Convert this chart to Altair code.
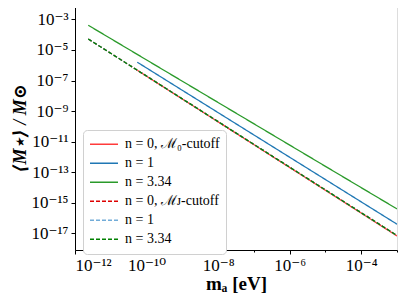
import altair as alt
import pandas as pd

# series: label, style key, start/end exponents (log10 of x and y)
series_labels = ["n = 0, ℳ₀-cutoff", "n = 1", "n = 3.34",
                 "n = 0, ℳ_J-cutoff", "n = 1 ", "n = 3.34 "]
legend_text = ["n = 0, ℳ₀-cutoff", "n = 1", "n = 3.34",
               "n = 0, ℳᴊ-cutoff", "n = 1", "n = 3.34"]
x_start_exp = [-10.26, -10.26, -11.63, -11.63, -11.63, -11.63]
x_end_exp = [-3.0, -3.0, -3.0, -3.0, -3.0, -3.0]
y_start_exp = [-6.33, -5.80, -3.38, -4.28, -4.28, -4.28]
y_end_exp = [-17.18, -16.41, -15.41, -17.15, -17.15, -17.15]
colors = ["#ff3b3b", "#1f77b4", "#2a9a2a", "#dd0000", "#72acd8", "#008000"]
dashes = [[1, 0], [1, 0], [1, 0], [4, 2], [4, 2], [4, 2]]

x_major_exp = [-12, -10, -8, -6, -4]
x_minor_exp = [-11, -9, -7, -5, -3]
y_major_exp = [-17, -15, -13, -11, -9, -7, -5, -3]

rows = []
for i, lab in enumerate(series_labels):
    rows.append({"series": lab, "order": i, "x": 10 ** x_start_exp[i], "y": 10 ** y_start_exp[i]})
    rows.append({"series": lab, "order": i, "x": 10 ** x_end_exp[i], "y": 10 ** y_end_exp[i]})
df = pd.DataFrame(rows)

sup = str.maketrans("-0123456789", "⁻⁰¹²³⁴⁵⁶⁷⁸⁹")


def label_expr(exps):
    parts = []
    for e in sorted(exps):
        parts.append(f"datum.value < {10 ** (e + 0.5)} ? '10{str(e).translate(sup)}' : ")
    return "".join(parts) + "''"


legend_expr = " : ".join(
    f"datum.label == '{s}' ? '{t}'" for s, t in zip(series_labels, legend_text)
) + " : datum.label"

FONT = "'Liberation Serif', 'DejaVu Serif', serif"

xscale = alt.Scale(type="log", domain=[1e-12, 1e-3], nice=False)
yscale = alt.Scale(type="log", domain=[10 ** -18.1, 10 ** -2.12], nice=False)

lines = alt.Chart(df).mark_line(strokeWidth=1.3, clip=True).encode(
    x=alt.X("x:Q", scale=xscale,
            axis=alt.Axis(values=[10 ** e for e in x_major_exp], labelExpr=label_expr(x_major_exp),
                          title="mₐ [eV]", titleFontWeight="bold", titleFontSize=19,
                          titleFont=FONT, titlePadding=1, tickSize=4, labelPadding=3,
                          labelFontSize=17, labelFont=FONT, grid=False,
                          domainColor="black", tickColor="black", labelColor="black",
                          titleColor="black")),
    y=alt.Y("y:Q", scale=yscale,
            axis=alt.Axis(values=[10 ** e for e in y_major_exp], labelExpr=label_expr(y_major_exp),
                          title="⟨M⋆⟩ / M⊙", titleFontWeight="bold", titleFontStyle="italic",
                          titleFontSize=18, titleFont=FONT, titlePadding=2, tickSize=4,
                          labelPadding=3, labelFontSize=17, labelFont=FONT, grid=False,
                          domainColor="black", tickColor="black", labelColor="black",
                          titleColor="black")),
    color=alt.Color("series:N", scale=alt.Scale(domain=series_labels, range=colors),
                    legend=alt.Legend(title=None, orient="none", legendX=8, legendY=124,
                                      symbolType="stroke", symbolSize=784, symbolStrokeWidth=1.5,
                                      labelFont=FONT, labelFontSize=14, labelColor="black",
                                      labelExpr=legend_expr, clipHeight=16.4,
                                      fillColor="white", strokeColor="#d0d0d0", cornerRadius=4,
                                      padding=6, rowPadding=2, labelOffset=6)),
    strokeDash=alt.StrokeDash("series:N", scale=alt.Scale(domain=series_labels, range=dashes),
                              legend=None),
    order="order:Q",
    detail="series:N",
)

minor = alt.Chart(pd.DataFrame({"x": [10 ** e for e in x_minor_exp]})).mark_point(opacity=0).encode(
    x=alt.X("x:Q", scale=xscale,
            axis=alt.Axis(values=[10 ** e for e in x_minor_exp], labels=False, tickSize=2,
                          title=None, domain=False, grid=False, orient="bottom", tickColor="black")),
)

chart = alt.layer(lines, minor).resolve_axis(x="independent").properties(
    width=322, height=244,
    autosize=alt.AutoSizeParams(type="none"),
    padding={"left": 67, "top": -2, "right": 2, "bottom": 47},
).configure_view(stroke="black", strokeWidth=1).configure(background="white")

chart.save("out.html", embed_options={"renderer": "svg", "actions": False})
